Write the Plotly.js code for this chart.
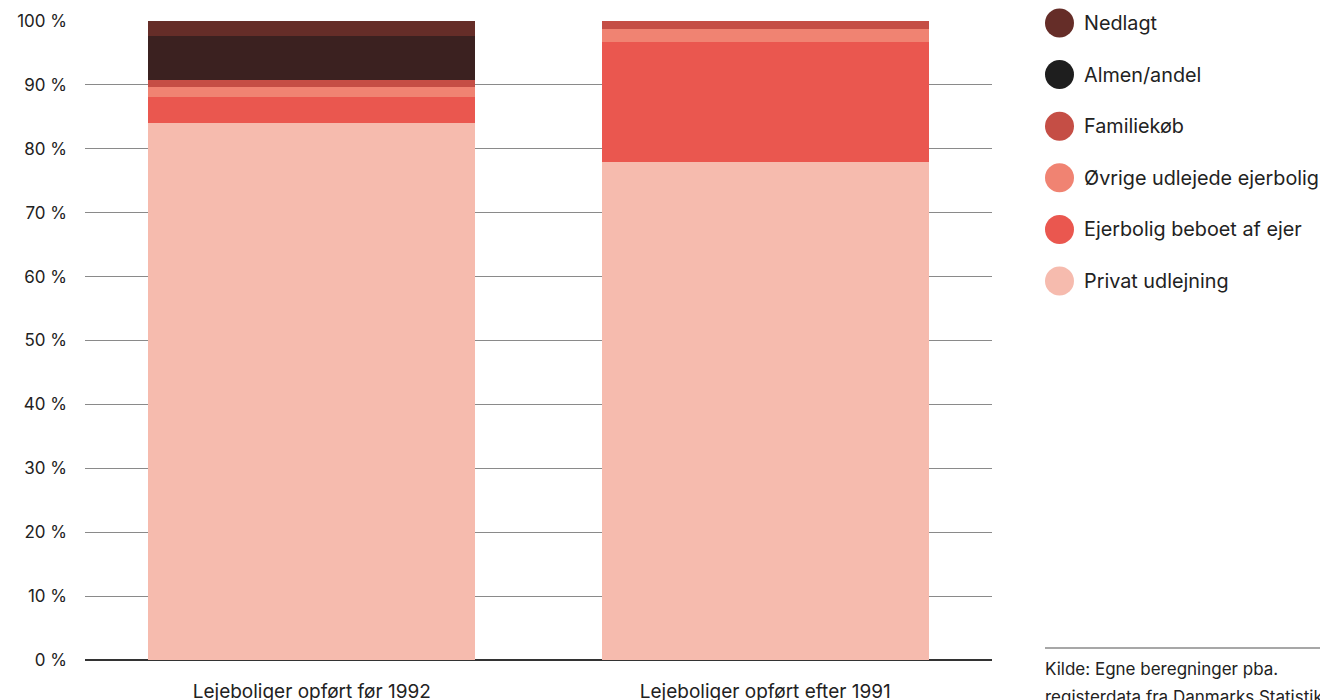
<!DOCTYPE html>
<html>
<head>
<meta charset="utf-8">
<script src="https://cdn.plot.ly/plotly-3.0.1.min.js"></script>
<style>html,body{margin:0;padding:0;background:#fff;}#chart{width:1320px;height:700px;}</style>
</head>
<body>
<div id="chart"></div>
<script>
const categories = ["Lejeboliger opført før 1992", "Lejeboliger opført efter 1991"];
const seriesNames = ["Privat udlejning", "Ejerbolig beboet af ejer", "Øvrige udlejede ejerbolig", "Familiekøb", "Almen/andel", "Nedlagt"];
const privatUdlejning = [84.0, 77.9];
const ejerboligBeboetAfEjer = [4.1, 18.8];
const oevrigeUdlejedeEjerbolig = [1.6, 2.0];
const familiekoeb = [1.1, 1.3];
const almenAndel = [6.9, 0.0];
const nedlagt = [2.3, 0.0];
const yTickVals = [0, 10, 20, 30, 40, 50, 60, 70, 80, 90, 100];
const yTickText = ["0 %", "10 %", "20 %", "30 %", "40 %", "50 %", "60 %", "70 %", "80 %", "90 %", "100 %"];
const sourceLines = ["Kilde: Egne beregninger pba.", "registerdata fra Danmarks Statistik"];

const barColors = ["#f6bbae", "#ea574f", "#f08372", "#c54e45", "#3b2120", "#652d28"];
const legendColors = ["#f6bbae", "#ea574f", "#f08372", "#c54e45", "#1e1e1e", "#652d28"];
const seriesValues = [privatUdlejning, ejerboligBeboetAfEjer, oevrigeUdlejedeEjerbolig, familiekoeb, almenAndel, nedlagt];

const FONT = "Inter, 'Noto Sans', sans-serif";
const traces = seriesValues.map((vals, i) => ({
  type: "bar",
  name: seriesNames[i],
  x: categories,
  y: vals,
  marker: {color: barColors[i], line: {width: 0}},
  showlegend: false,
  hoverinfo: "name+y"
}));

const shapes = [];
const annotations = [];
// custom legend (top = Nedlagt)
const legendOrder = [5, 4, 3, 2, 1, 0];
legendOrder.forEach((si, k) => {
  const cy = 23 + k * 51.6;
  shapes.push({type: "circle", xref: "paper", yref: "paper",
    x0: (1045 - 85) / 907, x1: (1074 - 85) / 907,
    y0: (700 - 40 - (cy + 14.5)) / 639, y1: (700 - 40 - (cy - 14.5)) / 639,
    fillcolor: legendColors[si], line: {width: 0}});
  annotations.push({xref: "paper", yref: "paper", x: (1082 - 85) / 907, y: (700 - 40 - cy) / 639,
    xanchor: "left", yanchor: "middle", showarrow: false, text: seriesNames[si],
    font: {family: FONT, size: 19.8, color: "#222"}});
});
// source line and text
shapes.push({type: "line", xref: "paper", yref: "paper",
  x0: (1045 - 85) / 907, x1: (1320 - 85) / 907,
  y0: (660 - 648) / 639, y1: (660 - 648) / 639, line: {color: "#8a8a8a", width: 1.5}});
sourceLines.forEach((t, i) => {
  annotations.push({xref: "paper", yref: "paper", x: (1043 - 85) / 907, y: (660 - (669 + i * 28)) / 639,
    xanchor: "left", yanchor: "middle", showarrow: false, text: t,
    font: {family: FONT, size: 17, color: "#222"}});
});

const layout = {
  width: 1320, height: 700,
  margin: {l: 85, r: 328, t: 21, b: 40, pad: 0},
  paper_bgcolor: "#fff", plot_bgcolor: "#fff",
  barmode: "stack",
  bargap: 0.28,
  showlegend: false,
  font: {family: FONT, color: "#222"},
  xaxis: {
    type: "category",
    showgrid: false, showline: false, zeroline: false, ticks: "",
    tickfont: {family: FONT, size: 19, color: "#222"},
    ticklabelstandoff: 18
  },
  yaxis: {
    range: [0, 100],
    tickmode: "array",
    tickvals: yTickVals,
    ticktext: yTickText,
    showgrid: true, gridcolor: "#8a8a8a", gridwidth: 1,
    zeroline: true, zerolinecolor: "#333", zerolinewidth: 1.5,
    showline: false, ticks: "",
    tickfont: {family: FONT, size: 17, color: "#222"},
    ticklabelstandoff: 17
  },
  shapes: shapes,
  annotations: annotations
};

Plotly.newPlot("chart", traces, layout, {displayModeBar: false, responsive: false});
</script>
</body>
</html>
